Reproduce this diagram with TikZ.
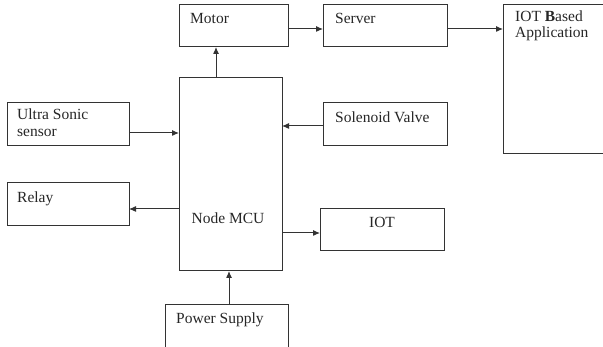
\documentclass[tikz,border=0pt]{standalone}
\usepackage{fontspec}
\setmainfont{Liberation Serif}
\usetikzlibrary{arrows.meta}

\begin{document}
\begin{tikzpicture}[x=1pt, y=-1pt,
    blk/.style={draw=black!80, line width=1pt, inner sep=0pt, outer sep=0pt, anchor=north west},
    arr/.style={-{Latex[length=7pt, width=6pt]}, line width=1pt, draw=black!80},
    lbl/.style={font=\fontsize{15.5}{16}\selectfont, inner sep=0pt, anchor=base west, text=black!85}]
    % Page (two boxes run off the edge)
    \useasboundingbox (0,0) rectangle (603,347);
    \clip (0,0) rectangle (603,347);
    % Boxes
    \node[blk, minimum width=109pt, minimum height=42pt] (motor) at (179,5) {};
    \node[blk, minimum width=124pt, minimum height=42pt] (server) at (323,5) {};
    \node[blk, minimum width=120pt, minimum height=149pt] (app) at (503,5) {};
    \node[blk, minimum width=103pt, minimum height=193pt] (mcu) at (179,78) {};
    \node[blk, minimum width=122pt, minimum height=43pt] (ultra) at (7,103) {};
    \node[blk, minimum width=124pt, minimum height=43pt] (valve) at (323,103) {};
    \node[blk, minimum width=122pt, minimum height=43pt] (relay) at (7,183) {};
    \node[blk, minimum width=124pt, minimum height=42pt] (iot) at (320,209) {};
    \node[blk, minimum width=123pt, minimum height=60pt] (power) at (165,305) {};
    % Labels
    \node[lbl] (motor-t) at ([xshift=11pt, yshift=-19pt]motor.north west) {Motor};
    \node[lbl] (server-t) at ([xshift=12pt, yshift=-19pt]server.north west) {Server};
    \node[lbl] (app-t1) at ([xshift=12pt, yshift=-17pt]app.north west) {IOT \textbf{B}ased};
    \node[lbl] (app-t2) at ([xshift=12pt, yshift=-33pt]app.north west) {Application};
    \node[lbl] (ultra-t1) at ([xshift=10pt, yshift=-17pt]ultra.north west) {Ultra Sonic};
    \node[lbl] (ultra-t2) at ([xshift=10pt, yshift=-34pt]ultra.north west) {sensor};
    \node[lbl] (valve-t) at ([xshift=12pt, yshift=-20pt]valve.north west) {Solenoid Valve};
    \node[lbl] (relay-t) at ([xshift=10pt, yshift=-20pt]relay.north west) {Relay};
    \node[lbl, anchor=base] (mcu-t) at ([xshift=49pt, yshift=-146pt]mcu.north west) {Node MCU};
    \node[lbl, anchor=base] (iot-t) at ([yshift=-19pt]iot.north) {IOT};
    \node[lbl] (power-t) at ([xshift=11pt, yshift=-19pt]power.north west) {Power Supply};
    % Arrows
    \draw[arr] ([xshift=37pt]mcu.north west) -- ([xshift=37pt]motor.south west);
    \draw[arr] ([yshift=-24pt]motor.north east) -- ([yshift=-24pt]server.north west);
    \draw[arr] ([yshift=-24pt]server.north east) -- ([yshift=-24pt]app.north west);
    \draw[arr] ([yshift=-30pt]ultra.north east) -- ([yshift=-55pt]mcu.north west);
    \draw[arr] ([yshift=-23pt]valve.north west) -- ([yshift=-48pt]mcu.north east);
    \draw[arr] ([yshift=-131pt]mcu.north west) -- ([yshift=-26pt]relay.north east);
    \draw[arr] ([yshift=-155pt]mcu.north east) -- ([yshift=-24pt]iot.north west);
    \draw[arr] ([xshift=64pt]power.north west) -- ([xshift=50pt]mcu.south west);
\end{tikzpicture}
\end{document}
